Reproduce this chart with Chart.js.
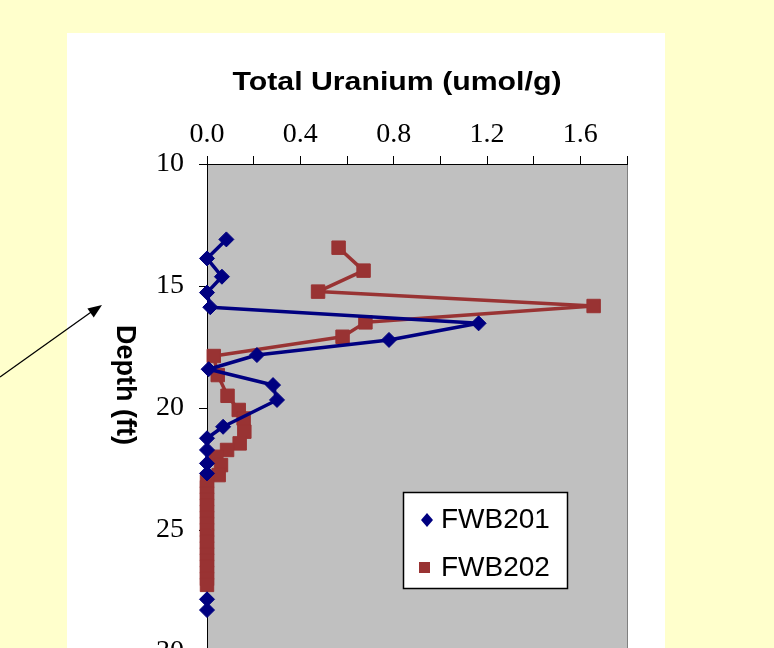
<!DOCTYPE html>
<html>
<head>
<meta charset="utf-8">
<script src="https://cdn.jsdelivr.net/npm/chart.js@4/dist/chart.umd.min.js"></script>
<style>
  html, body { margin: 0; padding: 0; background: #FFFFCC; overflow: hidden; }
  #wrap { width: 774px; height: 648px; overflow: hidden; position: relative; }
  canvas { display: block; }
</style>
</head>
<body>
<div id="wrap"><canvas id="myChart" width="774" height="700"></canvas></div>
<script>
'use strict';

// depth (ft) and total uranium (umol/g)
let seriesNames = ['FWB201', 'FWB202'];
let depthBlue = [13.09, 13.87, 14.62, 15.27, 15.87, 16.53, 17.21, 17.83, 18.41, 19.06, 19.67, 20.77, 21.24, 21.72, 22.27, 22.68, null, 27.84, 28.28];
let uraniumBlue = [0.083, 0.0, 0.064, 0.0, 0.014, 1.164, 0.78, 0.214, 0.007, 0.283, 0.30, 0.069, 0.0, 0.0, 0.0, 0.0, null, 0.0, 0.0];
let depthRed = [13.43, 14.37, 15.23, 15.82, 16.49, 17.08, 17.87, 18.65, 19.5, 20.08, 20.43, 20.97, 21.45, 21.72, 22.0, 22.34, 22.75,
  23.0, 23.25, 23.5, 23.75, 24.0, 24.25, 24.5, 24.75, 25.0, 25.25, 25.5, 25.75, 26.0, 26.25, 26.5, 26.75, 27.0, 27.25];
let uraniumRed = [0.564, 0.671, 0.476, 1.657, 0.679, 0.581, 0.029, 0.046, 0.088, 0.136, 0.157, 0.16, 0.14, 0.086, 0.04, 0.06, 0.05,
  0, 0, 0, 0, 0, 0, 0, 0, 0, 0, 0, 0, 0, 0, 0, 0, 0, 0];
let xTickLabels = ['0.0', '0.4', '0.8', '1.2', '1.6'];
let yTickLabels = ['10', '15', '20', '25', '30'];

let blueColor = '#000080';
let redColor = '#993333';

function toPoints(xs, ys) {
  let pts = [];
  for (let i = 0; i < xs.length; i++) {
    pts.push({ x: xs[i], y: ys[i] });
  }
  return pts;
}

// background, white panel, grey plot area, title, axis label, arrow, legend
let decor = {
  id: 'decor',
  beforeDraw(chart) {
    let ctx = chart.ctx;
    let a = chart.chartArea;
    ctx.save();
    ctx.fillStyle = '#FFFFCC';
    ctx.fillRect(0, 0, chart.width, chart.height);
    ctx.fillStyle = '#FFFFFF';
    ctx.fillRect(67, 33, 598, 700);
    ctx.fillStyle = '#C0C0C0';
    ctx.fillRect(a.left, a.top, a.right - a.left, a.bottom - a.top);
    ctx.strokeStyle = '#808080';
    ctx.lineWidth = 1;
    ctx.beginPath();
    ctx.moveTo(a.right + 0.5, a.top);
    ctx.lineTo(a.right + 0.5, a.bottom);
    ctx.stroke();
    ctx.restore();
  },
  afterDraw(chart) {
    let ctx = chart.ctx;
    ctx.save();
    ctx.fillStyle = '#000';

    // title
    ctx.font = 'bold 26px "Liberation Sans", Arial, sans-serif';
    let title = 'Total Uranium (umol/g)';
    let w = ctx.measureText(title).width;
    let sx = 329 / w;
    ctx.save();
    ctx.translate(397, 90);
    ctx.scale(sx, 1);
    ctx.textAlign = 'center';
    ctx.textBaseline = 'alphabetic';
    ctx.fillText(title, 0, 0);
    ctx.restore();

    // depth label, reads top to bottom
    ctx.save();
    ctx.font = 'bold 27px "Liberation Sans", Arial, sans-serif';
    ctx.translate(117, 385);
    ctx.rotate(Math.PI / 2);
    ctx.textAlign = 'center';
    ctx.textBaseline = 'alphabetic';
    ctx.fillText('Depth (ft)', 0, 0);
    ctx.restore();

    // arrow
    ctx.strokeStyle = '#000';
    ctx.lineWidth = 1.3;
    ctx.beginPath();
    ctx.moveTo(0, 377);
    ctx.lineTo(94, 310);
    ctx.stroke();
    let ang = Math.atan2(305 - 377, 102 - 0);
    ctx.save();
    ctx.translate(102, 305);
    ctx.rotate(ang);
    ctx.beginPath();
    ctx.moveTo(0, 0);
    ctx.lineTo(-14, -5.5);
    ctx.lineTo(-14, 5.5);
    ctx.closePath();
    ctx.fill();
    ctx.restore();

    // legend
    ctx.fillStyle = '#FFFFFF';
    ctx.fillRect(403, 492, 164, 96);
    ctx.strokeStyle = '#000';
    ctx.lineWidth = 1.5;
    ctx.strokeRect(403.5, 492.5, 164, 96);
    ctx.font = '28px "Liberation Sans", Arial, sans-serif';
    ctx.textAlign = 'left';
    ctx.textBaseline = 'alphabetic';
    let ds = chart.data.datasets;
    // diamond
    ctx.fillStyle = ds[0].backgroundColor;
    ctx.beginPath();
    ctx.moveTo(427, 513);
    ctx.lineTo(433, 520);
    ctx.lineTo(427, 527);
    ctx.lineTo(421, 520);
    ctx.closePath();
    ctx.fill();
    ctx.fillStyle = '#000';
    ctx.fillText(ds[0].label, 441, 528);
    // square
    ctx.fillStyle = ds[1].backgroundColor;
    ctx.fillRect(419, 562, 11, 11);
    ctx.fillStyle = '#000';
    ctx.fillText(ds[1].label, 441, 576);
    ctx.restore();
  }
};

let ctx = document.getElementById('myChart');

let config = {
  type: 'scatter',
  data: {
    datasets: [
      {
        label: seriesNames[0],
        data: toPoints(uraniumBlue, depthBlue),
        showLine: true,
        spanGaps: false,
        clip: false,
        borderColor: blueColor,
        backgroundColor: blueColor,
        borderWidth: 3.5,
        borderJoinStyle: 'round',
        pointStyle: 'rectRot',
        pointRadius: 7.5,
        pointBorderWidth: 1,
        pointBorderColor: blueColor,
        pointBackgroundColor: blueColor
      },
      {
        label: seriesNames[1],
        data: toPoints(uraniumRed, depthRed),
        showLine: true,
        spanGaps: false,
        clip: false,
        borderColor: redColor,
        backgroundColor: redColor,
        borderWidth: 3.5,
        borderJoinStyle: 'round',
        pointStyle: 'rect',
        pointRadius: 9.5,
        pointBorderWidth: 1,
        pointBorderColor: redColor,
        pointBackgroundColor: redColor
      }
    ]
  },
  options: {
    responsive: false,
    animation: false,
    devicePixelRatio: 1,
    layout: {
      padding: { left: 147, right: 147, top: 104, bottom: 48 }
    },
    plugins: {
      legend: { display: false },
      tooltip: { enabled: false },
      title: { display: false }
    },
    scales: {
      x: {
        type: 'linear',
        position: 'top',
        min: 0,
        max: 1.8,
        afterFit(scale) { scale.height = 60; },
        ticks: {
          stepSize: 0.2,
          autoSkip: false,
          maxRotation: 0,
          padding: 5,
          color: '#000',
          font: { family: '"Liberation Serif", "Times New Roman", serif', size: 28 },
          callback(value) {
            let v = Math.round(value * 10);
            if (v % 4 === 0) {
              return xTickLabels[v / 4];
            }
            return '';
          }
        },
        grid: {
          display: true,
          drawOnChartArea: false,
          drawTicks: true,
          tickLength: 8,
          color: '#000'
        },
        border: { display: true, color: '#000', width: 1 }
      },
      y: {
        type: 'linear',
        reverse: true,
        min: 10,
        max: 30,
        afterFit(scale) { scale.width = 60; },
        ticks: {
          stepSize: 5,
          autoSkip: false,
          padding: 15,
          color: '#000',
          font: { family: '"Liberation Serif", "Times New Roman", serif', size: 28 },
          callback(value) {
            return yTickLabels[Math.round((value - 10) / 5)];
          }
        },
        grid: {
          display: true,
          drawOnChartArea: false,
          drawTicks: true,
          tickLength: 8,
          color: '#000'
        },
        border: { display: true, color: '#000', width: 1 }
      }
    }
  },
  plugins: [decor]
};

new Chart(ctx, config);
</script>
</body>
</html>
